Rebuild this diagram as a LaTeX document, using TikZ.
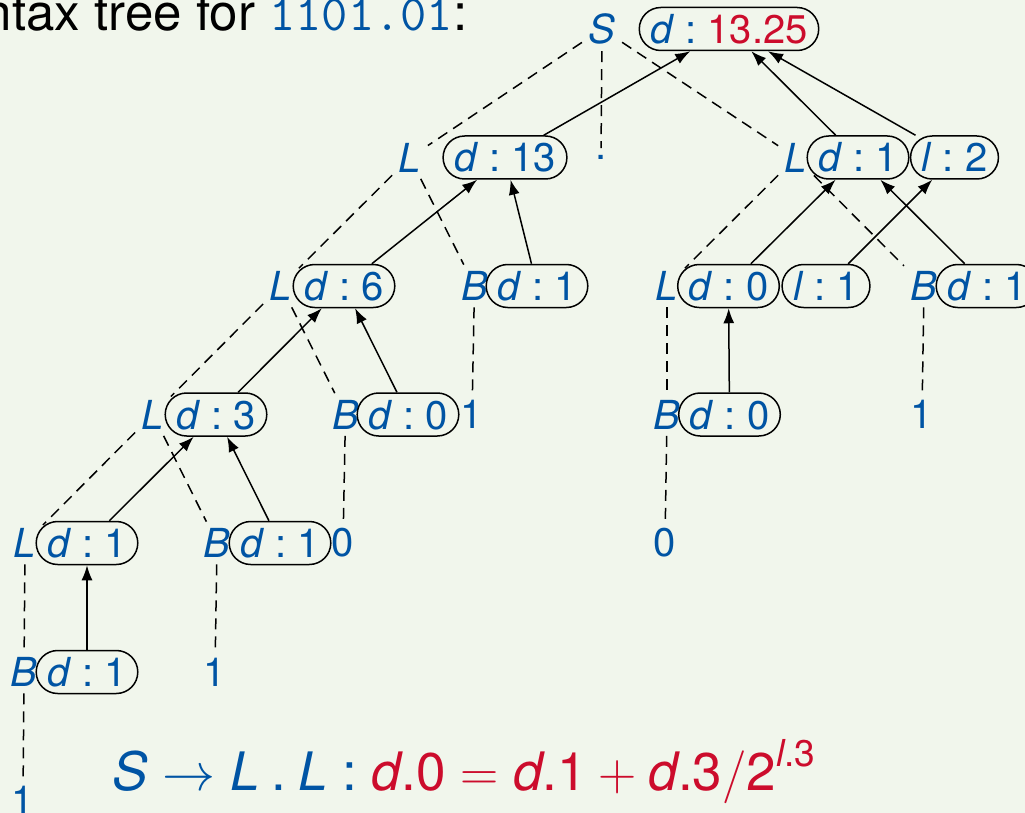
\documentclass[tikz,border=0pt]{standalone}
\usepackage{fix-cm}
\usepackage{amsmath}
\usepackage{fontspec}
\setmainfont{TeX Gyre Heros}
\usetikzlibrary{arrows.meta}
\definecolor{sblue}{RGB}{0,84,164}
\definecolor{sred}{RGB}{204,12,44}
\definecolor{bgcol}{RGB}{241,246,236}
\newcommand{\bodyfs}{\fontsize{40}{48}\selectfont}
\newcommand{\bigfs}{\fontsize{51}{61}\selectfont}
\newcommand{\rulefs}{\fontsize{53}{63}\selectfont}
\newcommand{\av}[2]{\textit{#1}\hspace{0.2778em}:\hspace{0.2778em}#2}
\begin{document}
\begin{tikzpicture}[x=1pt,y=-1pt,line width=1.5pt,
  sym/.style={text=sblue,inner sep=6pt,font=\bodyfs},
  att/.style={draw=black,rounded corners=21.5pt,inner xsep=11pt,inner ysep=7pt,text height=29pt,text depth=0pt,text=sblue,font=\bodyfs},
  synedge/.style={dash pattern=on 11pt off 7pt,line width=1.5pt},
  dep/.style={-{Latex[length=15pt,width=11pt]},line width=1.5pt}]
\fill[bgcol] (0,0) rectangle (1025,813);
\useasboundingbox (0,0) rectangle (1025,813);

% title
\node[anchor=base east,inner sep=0pt,font=\bigfs] (title) at (468,31) {Syntax tree for \texttt{\color{sblue}1101.01}:};

% row 0
\node[sym] (S) at (602,29) {\textit{S}};
\node[att] (A0) at (729,29) {\av{d}{\color{sred}13.25}};
% row 1
\node[sym] (L1) at (410,157.5) {\textit{L}};
\node[att] (A1) at (505,157.5) {\av{d}{13}};
\node[sym] (dot) at (601,157) {.};
\node[sym] (L2) at (796,157.5) {\textit{L}};
\node[att] (A2) at (858,157.5) {\av{d}{1}};
\node[att] (A2l) at (954.5,157.5) {\av{l}{2}};
% row 2
\node[sym] (L3) at (281,286) {\textit{L}};
\node[att] (A3) at (344,286) {\av{d}{6}};
\node[sym] (B4) at (474.5,286) {\textit{B}};
\node[att] (A4) at (537,286) {\av{d}{1}};
\node[sym] (L5) at (667,286) {\textit{L}};
\node[att] (A5) at (728.5,286) {\av{d}{0}};
\node[att] (A5l) at (826,286) {\av{l}{1}};
\node[sym] (B6) at (924,286) {\textit{B}};
\node[att] (A6) at (987,286) {\av{d}{1}};
% row 3
\node[sym] (L7) at (153,414.5) {\textit{L}};
\node[att] (A7) at (216,414.5) {\av{d}{3}};
\node[sym] (B8) at (345.5,414.5) {\textit{B}};
\node[att] (A8) at (408,414.5) {\av{d}{0}};
\node[sym] (c4) at (472,414.5) {1};
\node[sym] (B9) at (667,414.5) {\textit{B}};
\node[att] (A9) at (729.5,414.5) {\av{d}{0}};
\node[sym] (c6) at (922,414.5) {1};
% row 4
\node[sym] (L10) at (25,543) {\textit{L}};
\node[att] (A10) at (87,543) {\av{d}{1}};
\node[sym] (B11) at (217,543) {\textit{B}};
\node[att] (A11) at (280,543) {\av{d}{1}};
\node[sym] (c8) at (343,543) {0};
\node[sym] (c9) at (665,543) {0};
% row 5
\node[sym] (B12) at (24,672) {\textit{B}};
\node[att] (A12) at (87,672) {\av{d}{1}};
\node[sym] (c11) at (215,672) {1};
% row 6
\node[sym] (c12) at (23,800) {1};

% syntax tree edges
\draw[synedge] (S) -- (L1);
\draw[synedge] (S) -- (dot);
\draw[synedge] (S) -- (L2);
\draw[synedge] (L1) -- (L3);
\draw[synedge] (L1) -- (B4);
\draw[synedge] (L3) -- (L7);
\draw[synedge] (L3) -- (B8);
\draw[synedge] (L7) -- (L10);
\draw[synedge] (L7) -- (B11);
\draw[synedge] (L10) -- (B12);
\draw[synedge] (B12) -- (c12);
\draw[synedge] (B11) -- (c11);
\draw[synedge] (B8) -- (c8);
\draw[synedge] (B4) -- (c4);
\draw[synedge] (L2) -- (L5);
\draw[synedge] (L2) -- (B6);
\draw[synedge] (L5) -- (B9);
\draw[synedge] (B9) -- (c9);
\draw[synedge] (B6) -- (c6);

% attribute dependencies
\draw[dep] (A12) -- (A10);
\draw[dep] (A10) -- (A7);
\draw[dep] (A11) -- (A7);
\draw[dep] (A7) -- (A3);
\draw[dep] (A8) -- (A3);
\draw[dep] (A3) -- (A1);
\draw[dep] (A4) -- (A1);
\draw[dep] (A1) -- (A0);
\draw[dep] (A2) -- (A0);
\draw[dep] (A2l) -- (A0);
\draw[dep] (A5) -- (A2);
\draw[dep] (A5l) -- (A2l);
\draw[dep] (A6) -- (A2);
\draw[dep] (A9) -- (A5);

% rule
\node[anchor=base west,inner sep=0pt,text=sblue,font=\rulefs] (rule) at (112,790)
  {$\textit{S}\rightarrow\textit{L}\mathbin{\text{.}}\textit{L}\mathrel{\text{:}}{\color{sred}\textit{d}\text{.0}=\textit{d}\text{.1}+\textit{d}\text{.3}/\text{2}^{\textit{l}\text{.3}}}$};
\end{tikzpicture}
\end{document}
